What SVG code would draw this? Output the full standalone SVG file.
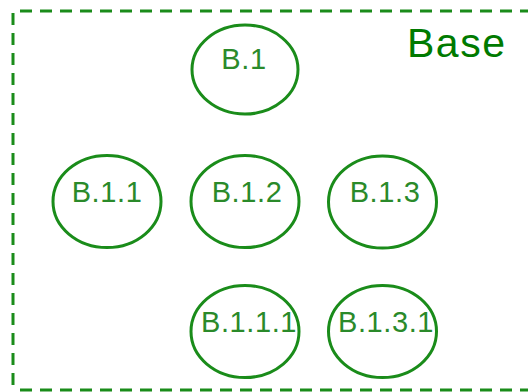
<svg xmlns="http://www.w3.org/2000/svg" width="528" height="392" viewBox="0 0 528 392">
  <style>
    .frame { fill: none; stroke: #1a8c1a; stroke-width: 3; stroke-dasharray: 12 8; }
    .node ellipse { fill: #ffffff; stroke: #1a8c1a; stroke-width: 3; }
    .node text { font-family: "Liberation Sans", Arial, sans-serif; font-size: 29px; letter-spacing: 0.6px; fill: #2a8a2a; text-anchor: middle; }
    .title { font-family: "Liberation Sans", Arial, sans-serif; font-size: 41px; letter-spacing: 1.5px; fill: #007a00; }
  </style>
  <rect width="528" height="392" fill="#ffffff"/>

  <!-- package frame -->
  <g id="base">
    <path class="frame" d="M20,11 H540"/>
    <path class="frame" d="M13,13 V392"/>
    <path class="frame" d="M20,390 H540"/>
    <text class="title" x="407" y="57">Base</text>
  </g>

  <g id="connectors"></g>

  <g id="b1" class="node">
    <ellipse cx="245" cy="69.5" rx="53" ry="44.5"/>
    <text x="244" y="69">B.1</text>
  </g>
  <g id="b11" class="node">
    <ellipse cx="107" cy="201.5" rx="54" ry="46"/>
    <text x="107" y="202">B.1.1</text>
  </g>
  <g id="b12" class="node">
    <ellipse cx="245" cy="201.5" rx="54" ry="46"/>
    <text x="247" y="202">B.1.2</text>
  </g>
  <g id="b13" class="node">
    <ellipse cx="382.5" cy="202" rx="54" ry="46"/>
    <text x="385" y="202">B.1.3</text>
  </g>
  <g id="b111" class="node">
    <ellipse cx="245" cy="331.5" rx="54" ry="46"/>
    <text x="249" y="332">B.1.1.1</text>
  </g>
  <g id="b131" class="node">
    <ellipse cx="382.5" cy="331.5" rx="54" ry="46"/>
    <text x="386" y="332">B.1.3.1</text>
  </g>
</svg>
